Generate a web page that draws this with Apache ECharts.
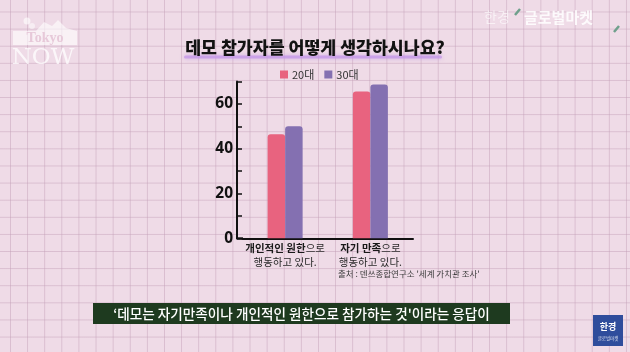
<!DOCTYPE html>
<html>
<head>
<meta charset="utf-8">
<script src="https://cdn.jsdelivr.net/npm/echarts@6/dist/echarts.min.js"></script>
<style>
    html, body {
        margin: 0;
        padding: 0;
    }
    body {
        width: 630px;
        height: 352px;
        background-color: #efdbe7;
        background-image: linear-gradient(to right, rgba(196, 160, 184, 0.5) 1.4px, transparent 1.4px),
        linear-gradient(to bottom, rgba(196, 160, 184, 0.5) 1.4px, transparent 1.4px);
        background-size: 17.12px 17.12px;
        background-position: 10px 11.5px;
        overflow: hidden;
    }
    #main {
        width: 630px;
        height: 352px;
    }
</style>
</head>
<body>
<div id="main"></div>
<script>
// 데이터
let categories = ['개인적인 원한', '자기 만족'];
let catSuffix = ['으로', '으로'];
let seriesNames = ['20대', '30대'];
let values20 = [46.5, 65.5];
let values30 = [50, 68.7];
let yTicks = [0, 20, 40, 60];

const KR = '"Noto Sans CJK KR", "Noto Sans", sans-serif';

let myChart = echarts.init(document.getElementById('main'), null, {renderer: 'canvas'});
let option = {
    backgroundColor: 'transparent',
    animation: false,
    textStyle: {fontFamily: KR},
    title: {
        text: '데모 참가자를 어떻게 생각하시나요?',
        left: 'center',
        top: 34,
        textStyle: {
            fontFamily: KR,
            fontSize: 17.3,
            fontWeight: 900,
            color: '#121212'
        }
    },
    legend: {
        data: seriesNames,
        left: 275,
        top: 64,
        itemWidth: 8,
        itemHeight: 8,
        itemGap: 10,
        icon: 'rect',
        textStyle: {
            fontFamily: KR,
            fontSize: 11,
            color: '#333',
            padding: [0, 0, 0, -1]
        }
    },
    grid: {
        left: 242.5,
        top: 81.5,
        width: 170.5,
        height: 156.8
    },
    xAxis: {
        type: 'category',
        data: categories,
        axisLine: {lineStyle: {color: '#111', width: 2}},
        axisTick: {show: false},
        axisLabel: {
            margin: 3,
            interval: 0,
            formatter: function (v, i) {
                return '{b|' + v + '}{n|' + catSuffix[i] + '}\n{n|행동하고 있다.}';
            },
            rich: {
                b: {fontFamily: KR, fontSize: 10.5, fontWeight: 'bold', color: '#1a1a1a', lineHeight: 14},
                n: {fontFamily: KR, fontSize: 10.5, color: '#2a2a2a', lineHeight: 14}
            }
        }
    },
    yAxis: {
        type: 'value',
        min: 0,
        max: 70,
        interval: 10,
        offset: 5.5,
        splitLine: {show: false},
        axisLine: {show: true, lineStyle: {color: '#111', width: 2}},
        axisTick: {show: true, inside: true, length: 5, lineStyle: {color: '#111', width: 1.5}},
        axisLabel: {
            margin: 4,
            fontFamily: '"Noto Sans", sans-serif',
            fontSize: 15.5,
            fontWeight: 'bold',
            color: '#111',
            formatter: function (v) {
                return yTicks.indexOf(v) >= 0 ? String(v) : '';
            }
        }
    },
    series: [
        {
            name: seriesNames[0],
            type: 'bar',
            data: values20,
            barWidth: 17.5,
            barGap: '0%',
            itemStyle: {color: '#e8637f', borderRadius: [3, 3, 0, 0]}
        },
        {
            name: seriesNames[1],
            type: 'bar',
            data: values30,
            barWidth: 17.5,
            itemStyle: {color: '#8470b1', borderRadius: [3, 3, 0, 0]}
        }
    ],
    graphic: [
        // 제목 밑줄
        {
            type: 'rect', z: -1,
            shape: {x: 184, y: 55.5, width: 258, height: 3, r: 1.5},
            style: {fill: 'rgba(196, 150, 232, 0.75)', shadowBlur: 4, shadowColor: 'rgba(190, 140, 230, 0.8)'}
        },
        // x축 연장
        {
            type: 'line', z: 10,
            shape: {x1: 236, y1: 238.3, x2: 243, y2: 238.3},
            style: {stroke: '#111', lineWidth: 2}
        },
        // 출처
        {
            type: 'text',
            style: {
                x: 338, y: 274, text: "출처 : 덴쓰종합연구소 '세계 가치관 조사'",
                fontFamily: KR, fontSize: 8.5, fill: '#3a3a3a', textVerticalAlign: 'middle'
            }
        },
        // 자막
        {
            type: 'rect',
            shape: {x: 93, y: 303, width: 417, height: 21},
            style: {fill: '#1e3a1f'}
        },
        {
            type: 'text',
            style: {
                x: 301.5, y: 313.5, text: "‘데모는 자기만족이나 개인적인 원한으로 참가하는 것'이라는 응답이",
                fontFamily: KR, fontSize: 13.6, fontWeight: 500, fill: '#ffffff', textAlign: 'center', textVerticalAlign: 'middle'
            }
        },
        // Tokyo NOW 로고
        {
            type: 'polygon',
            shape: {points: [[13, 45], [13, 31], [36, 31], [44, 22], [52, 26], [58, 20], [66, 28], [77, 31], [77, 45]]},
            style: {fill: 'rgba(255,255,255,0.6)'}
        },
        {
            type: 'circle',
            shape: {cx: 27, cy: 21, r: 3.5},
            style: {fill: 'rgba(255,255,255,0.6)'}
        },
        {
            type: 'circle',
            shape: {cx: 32, cy: 26, r: 3},
            style: {fill: 'rgba(255,255,255,0.5)'}
        },
        {
            type: 'text',
            style: {
                x: 45, y: 38, text: 'Tokyo', fontFamily: '"Liberation Serif", serif', fontSize: 14,
                fontWeight: 'bold', fill: '#e7c9d9', textAlign: 'center', textVerticalAlign: 'middle'
            }
        },
        {
            type: 'text',
            style: {
                x: 43, y: 58, text: 'NOW', fontFamily: '"DejaVu Serif", serif', fontSize: 23,
                fill: 'rgba(255,255,255,0.75)', textAlign: 'center', textVerticalAlign: 'middle'
            }
        },
        // 한경 글로벌마켓
        {
            type: 'text',
            style: {
                x: 484, y: 17, text: '한경', fontFamily: KR, fontSize: 14,
                fill: 'rgba(255,255,255,0.6)', textVerticalAlign: 'middle'
            }
        },
        {
            type: 'text',
            style: {
                x: 524, y: 17, text: '글로벌마켓', fontFamily: KR, fontSize: 15, fontWeight: 'bold',
                fill: 'rgba(255,255,255,0.85)', textVerticalAlign: 'middle'
            }
        },
        {
            type: 'line',
            shape: {x1: 515, y1: 15, x2: 520, y2: 9},
            style: {stroke: '#6fa08c', lineWidth: 2.5}
        },
        {
            type: 'line',
            shape: {x1: 614, y1: 32, x2: 619, y2: 26},
            style: {stroke: '#6fa08c', lineWidth: 2.5}
        },
        // 우하단 로고
        {
            type: 'rect',
            shape: {x: 593, y: 315, width: 30, height: 31},
            style: {fill: '#2f4d9c'}
        },
        {
            type: 'text',
            style: {
                x: 608, y: 327, text: '한경', fontFamily: KR, fontSize: 9, fontWeight: 'bold',
                fill: '#ffffff', textAlign: 'center', textVerticalAlign: 'middle'
            }
        },
        {
            type: 'text',
            style: {
                x: 608, y: 338, text: '글로벌마켓', fontFamily: KR, fontSize: 4.5,
                fill: 'rgba(255,255,255,0.8)', textAlign: 'center', textVerticalAlign: 'middle'
            }
        }
    ]
};
myChart.setOption(option);
</script>
</body>
</html>
